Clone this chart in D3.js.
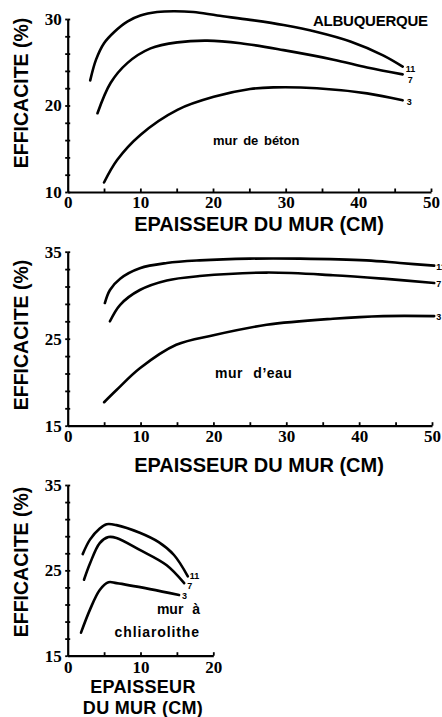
<!DOCTYPE html>
<html><head><meta charset="utf-8">
<script src="https://cdn.jsdelivr.net/npm/d3@7"></script>
<style>
html,body{margin:0;padding:0;background:#fff;}
svg{display:block;}
.sans{font-family:"Liberation Sans",Arial,Helvetica,sans-serif;font-weight:bold;}
</style></head>
<body>
<script>
// ---------- DATA ----------
const seriesLabels = ["11", "7", "3"];
const yTitle = "EFFICACITE (%)";
const xTitle = "EPAISSEUR DU MUR (CM)";

// Panel 1: mur de béton (Albuquerque)
const betonTicksX = [0, 10, 20, 30, 40, 50];
const betonTicksY = [10, 20, 30];
const beton11 = [[3.1,22.9],[3.9,25.3],[5,27.2],[6.4,28.5],[8.2,29.7],[10,30.4],[12.3,30.8],[14.6,30.9],[17.3,30.8],[20.6,30.4],[25.1,29.9],[29.7,29.3],[34.3,28.5],[38.9,27.4],[43.4,25.8],[46.1,24.5]];
const beton7  = [[4.1,19.1],[5.9,22.6],[8.2,24.9],[11.4,26.6],[15.1,27.3],[19.2,27.5],[23.8,27.2],[29.7,26.4],[36.6,25.3],[41.2,24.4],[46.1,23.6]];
const beton3  = [[5,11.1],[6.8,13.7],[10,16.6],[15.1,19.5],[20.1,21.0],[25.1,21.9],[28.3,22.1],[34.3,22.0],[41.2,21.4],[46.1,20.6]];

// Panel 2: mur d'eau
const eauTicksX = [0, 10, 20, 30, 40, 50];
const eauTicksY = [15, 25, 35];
const eau11 = [[5.1,29.1],[5.8,30.6],[7.2,31.9],[9.9,33.1],[13.6,33.7],[18.1,34.0],[25.0,34.2],[31.9,34.2],[41.0,34.0],[45.6,33.7],[50.3,33.4]];
const eau7  = [[5.8,27.0],[7.2,28.9],[9.9,30.6],[13.6,31.7],[18.1,32.2],[27.3,32.6],[36.4,32.3],[43.3,31.9],[50.3,31.4]];
const eau3  = [[5.0,17.7],[6.7,19.1],[9.9,21.6],[14.9,24.3],[20.0,25.4],[27.3,26.6],[36.4,27.3],[43.3,27.6],[50.3,27.6]];

// Panel 3: mur à chliarolithe
const chliaTicksX = [0, 10, 20];
const chliaTicksY = [15, 25, 35];
const chlia11 = [[2.06,26.9],[3.06,28.6],[4.4,29.9],[5.35,30.4],[6.7,30.3],[9.9,29.4],[12.5,28.3],[14.6,26.8],[16.5,24.3]];
const chlia7  = [[2.24,23.9],[3.06,25.8],[4.4,28.2],[5.6,28.9],[6.7,28.8],[9.9,27.4],[13.6,25.6],[16.0,23.5]];
const chlia3  = [[1.83,17.7],[3.06,20.4],[4.4,22.7],[5.6,23.6],[6.7,23.5],[11.3,22.8],[15.3,22.1]];

// ---------- DRAW ----------
const W = 442, H = 717;
const svg = d3.select("body").append("svg").attr("width", W).attr("height", H);
const SERIF = '"Liberation Serif","Times New Roman",Times,serif';

function panel(opt) {
  const x = d3.scaleLinear().domain(opt.xDom).range(opt.xRange);
  const y = d3.scaleLinear().domain(opt.yDom).range(opt.yRange);
  const g = svg.append("g");

  // minor ticks y (both sides)
  const yMinor = d3.range(opt.yDom[0], opt.yDom[1] + 0.001, 2);
  [d3.axisLeft, d3.axisRight].forEach(ax => {
    g.append("g").attr("transform", `translate(${opt.xRange[0]},0)`)
      .call(ax(y).tickValues(yMinor).tickSizeInner(2.5).tickSizeOuter(0).tickFormat(""))
      .call(s => s.select(".domain").remove())
      .selectAll("line").attr("stroke", "#000").attr("stroke-width", 1.8);
  });
  // minor ticks x (upwards)
  const xMinor = d3.range(opt.xDom[0] + 5, opt.xDom[1] + 0.001, 5);
  g.append("g").attr("transform", `translate(0,${opt.yRange[0]})`)
    .call(d3.axisTop(x).tickValues(xMinor).tickSizeInner(3.5).tickSizeOuter(0).tickFormat(""))
    .call(s => s.select(".domain").remove())
    .selectAll("line").attr("stroke", "#000").attr("stroke-width", 1.8);

  // axes lines + labels
  const ya = g.append("g").attr("transform", `translate(${opt.xRange[0]},0)`)
    .call(d3.axisLeft(y).tickValues(opt.yTicks).tickSize(0).tickPadding(6).tickSizeOuter(0));
  ya.select(".domain").attr("stroke", "#000").attr("stroke-width", 2.2);
  const xa = g.append("g").attr("transform", `translate(0,${opt.yRange[0]})`)
    .call(d3.axisBottom(x).tickValues(opt.xTicks).tickSize(0).tickPadding(opt.xPad).tickSizeOuter(0));
  xa.select(".domain").attr("stroke", "#000").attr("stroke-width", 2.2);
  [ya, xa].forEach(a => a.selectAll("text")
    .style("font-family", SERIF).style("font-weight", "bold").style("font-size", "17px").attr("fill", "#000"));

  // curves
  const line = d3.line().x(d => x(d[0])).y(d => y(d[1])).curve(d3.curveCatmullRom.alpha(0.5));
  opt.series.forEach((s, i) => {
    g.append("path").datum(s).attr("d", line)
      .attr("fill", "none").attr("stroke", "#000").attr("stroke-width", 2.6)
      .attr("stroke-linecap", "round");
    const last = s[s.length - 1];
    g.append("text").attr("class", "sans")
      .attr("x", x(last[0]) + opt.lblDx[i]).attr("y", y(last[1]) + opt.lblDy[i])
      .attr("font-size", 9).text(seriesLabels[i]);
  });

  // y title
  g.append("text").attr("class", "sans")
    .attr("transform", `translate(28,${opt.yTitleC}) rotate(-90)`)
    .attr("text-anchor", "middle").attr("font-size", 19.5).text(yTitle);
  return {g, x, y};
}

const p1 = panel({
  xDom: [0, 50], xRange: [67.7, 431], yDom: [10, 30], yRange: [192, 19],
  xTicks: betonTicksX, yTicks: betonTicksY, xPad: 4,
  series: [beton11, beton7, beton3], lblDx: [3, 5, 4], lblDy: [5, 9, 5], yTitleC: 93
});
p1.g.append("text").attr("class", "sans").attr("x", 259).attr("y", 231)
  .attr("text-anchor", "middle").attr("font-size", 20).text(xTitle);
p1.g.append("text").attr("class", "sans").attr("x", 428).attr("y", 25.5)
  .attr("text-anchor", "end").attr("font-size", 15).attr("textLength", 115).text("ALBUQUERQUE");
p1.g.append("text").attr("class", "sans").attr("x", 213).attr("y", 145)
  .attr("font-size", 13).attr("word-spacing", 2).text("mur de béton");

const p2 = panel({
  xDom: [0, 50], xRange: [67.7, 432], yDom: [15, 35], yRange: [425.7, 251.7],
  xTicks: eauTicksX, yTicks: eauTicksY, xPad: 4,
  series: [eau11, eau7, eau3], lblDx: [2, 2, 2], lblDy: [4, 4, 4], yTitleC: 335
});
p2.g.append("text").attr("class", "sans").attr("x", 259).attr("y", 472)
  .attr("text-anchor", "middle").attr("font-size", 20).text(xTitle);
p2.g.append("text").attr("class", "sans").attr("x", 215).attr("y", 378)
  .attr("font-size", 14).attr("letter-spacing", 0.5).attr("word-spacing", 6).text("mur d’eau");

const p3 = panel({
  xDom: [0, 20], xRange: [67.7, 213.3], yDom: [15, 35], yRange: [655.7, 485],
  xTicks: chliaTicksX, yTicks: chliaTicksY, xPad: 5,
  series: [chlia11, chlia7, chlia3], lblDx: [2, 3, 3], lblDy: [3, 6, 4], yTitleC: 562
});
p3.g.append("text").attr("class", "sans").attr("x", 143).attr("y", 693)
  .attr("text-anchor", "middle").attr("font-size", 18).attr("letter-spacing", 0.3).text("EPAISSEUR");
p3.g.append("text").attr("class", "sans").attr("x", 143).attr("y", 714)
  .attr("text-anchor", "middle").attr("font-size", 18).attr("letter-spacing", 0.3).text("DU MUR (CM)");
p3.g.append("text").attr("class", "sans").attr("x", 200).attr("y", 614)
  .attr("text-anchor", "end").attr("font-size", 14).attr("word-spacing", 5).text("mur à");
p3.g.append("text").attr("class", "sans").attr("x", 200).attr("y", 637)
  .attr("text-anchor", "end").attr("font-size", 14).attr("letter-spacing", 0.9).text("chliarolithe");
</script>
</body></html>
